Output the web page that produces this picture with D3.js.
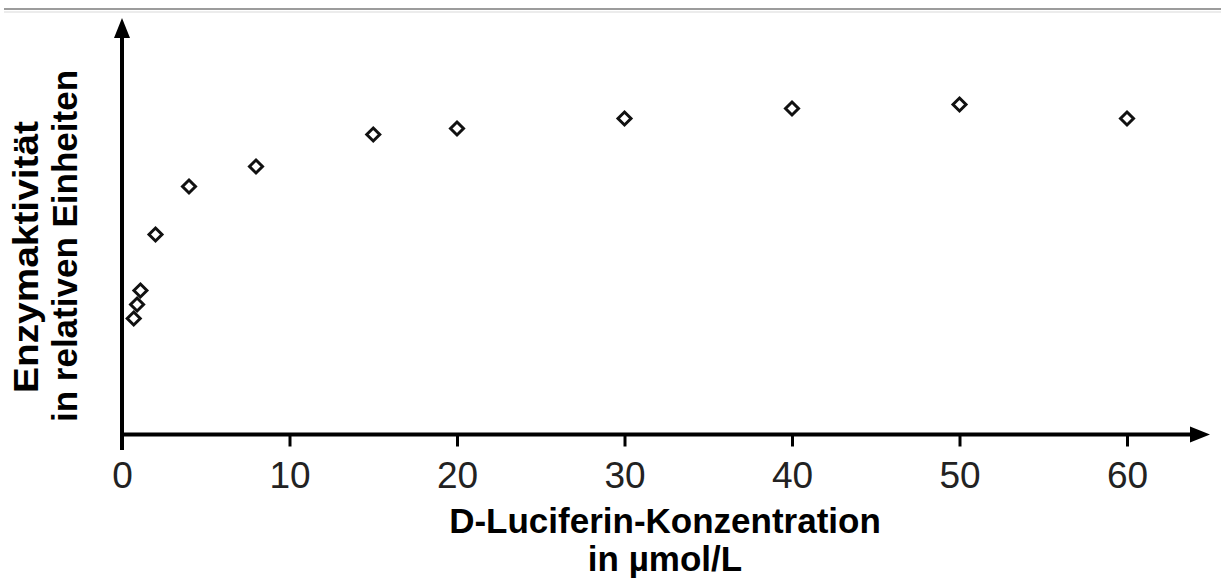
<!DOCTYPE html>
<html>
<head>
<meta charset="utf-8">
<script src="https://cdn.jsdelivr.net/npm/d3@7/dist/d3.min.js"></script>
<style>
  html, body { margin: 0; padding: 0; background: #fff; }
  svg { display: block; }
  text { font-family: "Liberation Sans", Arial, Helvetica, sans-serif; }
</style>
</head>
<body>
<svg id="chart" width="1221" height="584"></svg>
<script>
// Luciferin concentration (µmol/L) and measured enzyme activity (relative units)
const concentrations = [0.7, 0.9, 1.1, 2, 4, 8, 15, 20, 30, 40, 50, 60];
const activity = [29, 32.5, 36, 50, 62, 67, 75, 76.5, 79, 81.5, 82.5, 79];
const xTicks = [0, 10, 20, 30, 40, 50, 60];
const xTitle = ["D-Luciferin-Konzentration", "in µmol/L"];
const yTitle = ["Enzymaktivität", "in relativen Einheiten"];

const svg = d3.select("#chart");
const W = 1221, H = 584;

const x = d3.scaleLinear().domain([0, 60]).range([122, 1127]);
const y = d3.scaleLinear().domain([0, 100]).range([434.5, 34.5]);

// thin rule across the top
svg.append("line")
  .attr("x1", 4).attr("x2", W).attr("y1", 9).attr("y2", 9)
  .attr("stroke", "#9c9c9c").attr("stroke-width", 2);
svg.append("line")
  .attr("x1", 4).attr("x2", W).attr("y1", 12).attr("y2", 12)
  .attr("stroke", "#ececec").attr("stroke-width", 2);

// x axis ticks and labels
const xAxis = d3.axisBottom(x)
  .tickValues(xTicks)
  .tickFormat(d3.format("d"))
  .tickSizeInner(12)
  .tickSizeOuter(0)
  .tickPadding(15);

const gx = svg.append("g")
  .attr("transform", `translate(0,${y(0)})`)
  .call(xAxis);
gx.select(".domain").remove();
gx.selectAll(".tick line").attr("stroke", "#000").attr("stroke-width", 3);
gx.selectAll(".tick text")
  .attr("fill", "#222")
  .style("font-size", "37px")
  .attr("dy", "0.71em");

// axis lines with arrow heads
const x0 = x(0), y0 = y(0);
svg.append("line")
  .attr("x1", x0).attr("x2", x0).attr("y1", 450).attr("y2", 34)
  .attr("stroke", "#000").attr("stroke-width", 4);
svg.append("path")
  .attr("d", `M${x0},18 L${x0 - 8},38 L${x0 + 8},38 Z`)
  .attr("fill", "#000");

svg.append("line")
  .attr("x1", x0 - 2).attr("x2", 1194).attr("y1", y0).attr("y2", y0)
  .attr("stroke", "#000").attr("stroke-width", 4);
svg.append("path")
  .attr("d", `M1210,${y0} L1190,${y0 - 8} L1190,${y0 + 8} Z`)
  .attr("fill", "#000");

// data points: open diamonds
const r = 6.5;
svg.append("g")
  .selectAll("path")
  .data(concentrations.map((c, i) => [c, activity[i]]))
  .join("path")
  .attr("d", d => {
    const cx = x(d[0]), cy = y(d[1]);
    return `M${cx},${cy - r} L${cx + r},${cy} L${cx},${cy + r} L${cx - r},${cy} Z`;
  })
  .attr("fill", "#fff")
  .attr("stroke", "#111")
  .attr("stroke-width", 3);

// x axis title
svg.append("text")
  .attr("x", 665).attr("y", 533)
  .attr("text-anchor", "middle")
  .style("font-size", "35px").style("font-weight", "bold")
  .text(xTitle[0]);
svg.append("text")
  .attr("x", 665).attr("y", 571)
  .attr("text-anchor", "middle")
  .style("font-size", "35px").style("font-weight", "bold")
  .text(xTitle[1]);

// y axis title (rotated)
const yt = svg.append("g").attr("transform", "rotate(-90)");
yt.append("text")
  .attr("x", -257).attr("y", 38)
  .attr("text-anchor", "middle")
  .attr("textLength", 272)
  .attr("lengthAdjust", "spacingAndGlyphs")
  .style("font-size", "35px").style("font-weight", "bold")
  .text(yTitle[0]);
yt.append("text")
  .attr("x", -246).attr("y", 77)
  .attr("text-anchor", "middle")
  .style("font-size", "35px").style("font-weight", "bold")
  .text(yTitle[1]);
</script>
</body>
</html>
